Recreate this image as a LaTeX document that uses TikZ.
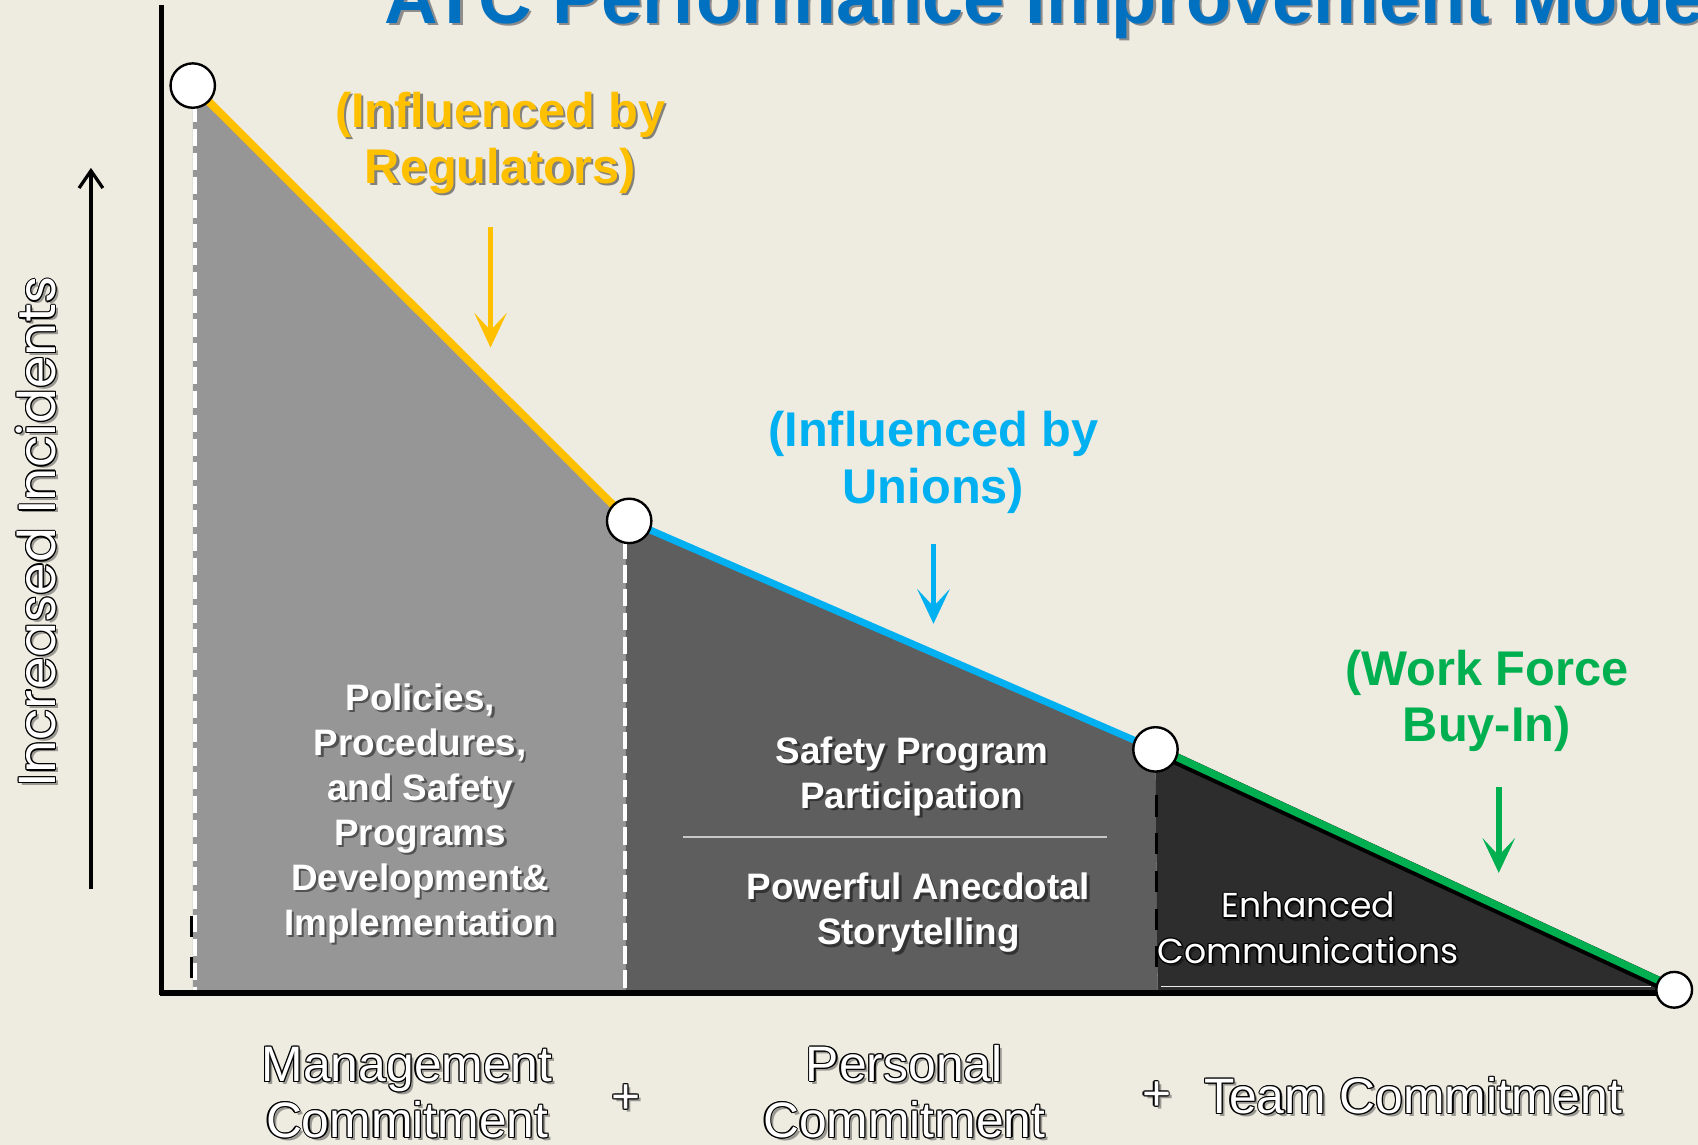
\documentclass[tikz,border=0pt]{standalone}
\usepackage{fontspec}
\setmainfont{Liberation Sans}
\newfontfamily\geofont{Poppins}
\usetikzlibrary{arrows.meta}
\definecolor{bg}{RGB}{238,235,225}
\definecolor{titleblue}{RGB}{0,112,192}
\definecolor{gold}{RGB}{255,192,0}
\definecolor{skyblue}{RGB}{0,176,240}
\definecolor{grn}{RGB}{0,176,80}
\definecolor{lightgr}{RGB}{150,150,150}
\definecolor{midgr}{RGB}{94,94,94}
\definecolor{darkgr}{RGB}{45,45,45}
\definecolor{sepline}{RGB}{200,200,200}
% outlined white text: name, position, style, text
\newcommand{\outlinednode}[4]{%
  \node[#3,text=black,opacity=.35] at ([shift={(1.4pt,-1.4pt)}]#2) {#4};
  \foreach \dx/\dy in {0.55/0,-0.55/0,0/0.55,0/-0.55,0.4/0.4,0.4/-0.4,-0.4/0.4,-0.4/-0.4}
    \node[#3,text=black] at ([shift={(\dx pt,\dy pt)}]#2) {#4};
  \node[#3,text=white] (#1) at (#2) {#4};
}
% text with a soft drop shadow: name, position, style, text
\newcommand{\shadowednode}[4]{%
  \node[#3,text=black,opacity=.45] at ([shift={(1.1pt,-1.1pt)}]#2) {#4};
  \node[#3] (#1) at (#2) {#4};
}
\begin{document}
\begin{tikzpicture}[x=0.5pt,y=-0.5pt,
  dot/.style={circle,draw=black,fill=white,line width=1.1pt,inner sep=0pt,minimum size=20.5pt},
  smalldot/.style={dot,minimum size=16.5pt},
  whitedash/.style={white,line width=2pt,dash pattern=on 8pt off 3pt},
  infl/.style={line width=2.6pt,-{Stealth[length=16pt,width=15pt,inset=8pt]}},
  influ/.style={inner sep=0pt,align=center,font=\fontsize{22.5}{26}\selectfont\bfseries},
  boxtext/.style={inner sep=0pt,align=center,text=white,font=\fontsize{17}{20.8}\selectfont\bfseries},
  bottomlab/.style={inner sep=0pt,align=center,font=\fontsize{23}{26}\selectfont},
]
\useasboundingbox (0,0) rectangle (1568,1057);
\clip (0,0) rectangle (1568,1057);
\fill[bg] (0,0) rectangle (1568,1057);

% key points of the curve
\coordinate (p1) at (178,79);
\coordinate (p2) at (581,481);
\coordinate (p3) at (1067,692);
\coordinate (p4) at (1546,914);

% shaded areas
\fill[lightgr] (178,79) -- (578,478) -- (578,916) -- (178,916) -- cycle;
\fill[midgr] (578,478) -- (1067,692) -- (1069,916) -- (578,916) -- cycle;
\fill[darkgr] (1067,692) -- (1546,914) -- (1069,914) -- cycle;
\draw[white!85!gray,line width=0.8pt] (1072,911) -- (1525,911);

% dashed separators
\draw[whitedash] (180,97) -- (180,915);
\draw[black,line width=1.5pt] (177,846) -- (177,865) (177,884) -- (177,903);
\draw[whitedash] (577,500) -- (577,915);
\draw[black,line width=1.5pt,dash pattern=on 10pt off 7.5pt] (1068,734) -- (1068,893);

% axes
\draw[black,line width=2pt] (149,5) -- (149,919);
\draw[black,line width=2.5pt] (148,917) -- (1540,917);
\coordinate (ya) at (84,821);
\coordinate (yb) at (84,155);
\draw[black,line width=1.5pt,-{Straight Barb[length=8pt,width=11pt]}] (ya) -- (yb);

% curve segments
\draw[gold,line width=3.6pt] (p1) -- (p2);
\draw[skyblue,line width=3.2pt] (p2) -- (p3);
\draw[black,line width=5.4pt] (p3) -- (p4);
\draw[grn,line width=3.5pt] ([yshift=1pt]p3) -- ([yshift=1pt]p4);

\node[dot] (c1) at (p1) {};
\node[dot] (c2) at (p2) {};
\node[dot] (c3) at (p3) {};
\node[smalldot] (c4) at (p4) {};

% title (clipped at top)
\node[anchor=base west,inner sep=0pt,text=black!45,font=\fontsize{34.2}{40}\selectfont\bfseries] at (357,24) {ATC Performance Improvement Model};
\node[anchor=base west,inner sep=0pt,text=titleblue,font=\fontsize{34.2}{40}\selectfont\bfseries] (title) at (355,22) {ATC Performance Improvement Model};

% influence labels and arrows
\shadowednode{lreg}{462,132}{influ,text=gold}{(Influenced by\\Regulators)}
\coordinate (ga) at (453,210);
\coordinate (gb) at (453,321);
\draw[gold,infl] (ga) -- (gb);

\node[influ,text=skyblue] (luni) at (862,427) {(Influenced by\\Unions)};
\coordinate (ba) at (862,502);
\coordinate (bb) at (862,576);
\draw[skyblue,infl] (ba) -- (bb);

\node[influ,text=grn] (lwf) at (1373,647) {(Work Force\\Buy-In)};
\coordinate (wa) at (1384,727);
\coordinate (wb) at (1384,806);
\draw[grn,infl] (wa) -- (wb);

% area texts
\shadowednode{tpol}{388,751}{boxtext}{Policies,\\Procedures,\\and Safety\\Programs\\Development\&\\Implementation}
\shadowednode{tsaf}{842,717}{boxtext}{Safety Program\\Participation}
\coordinate (sa) at (631,773);
\coordinate (sb) at (1022,773);
\draw[sepline,line width=0.6pt] (sa) -- (sb);
\shadowednode{tpow}{848,843}{boxtext}{Powerful Anecdotal\\Storytelling}
\outlinednode{tenh}{1208,857}{inner sep=0pt,align=center,font=\geofont\fontsize{16}{21}\selectfont}{Enhanced\\Communications}

% axis label
\outlinednode{tinc}{33,491}{inner sep=0pt,rotate=90,font=\geofont\fontsize{24}{28}\selectfont}{Increased Incidents}

% bottom labels
\outlinednode{tman}{376,1009}{bottomlab}{Management\\Commitment}
\outlinednode{plus1}{578,1015}{bottomlab}{+}
\outlinednode{tper}{835,1008}{bottomlab}{Personal\\Commitment}
\outlinednode{plus2}{1068,1012}{bottomlab}{+}
\outlinednode{tteam}{1305,1012}{bottomlab}{Team Commitment}
\end{tikzpicture}
\end{document}
